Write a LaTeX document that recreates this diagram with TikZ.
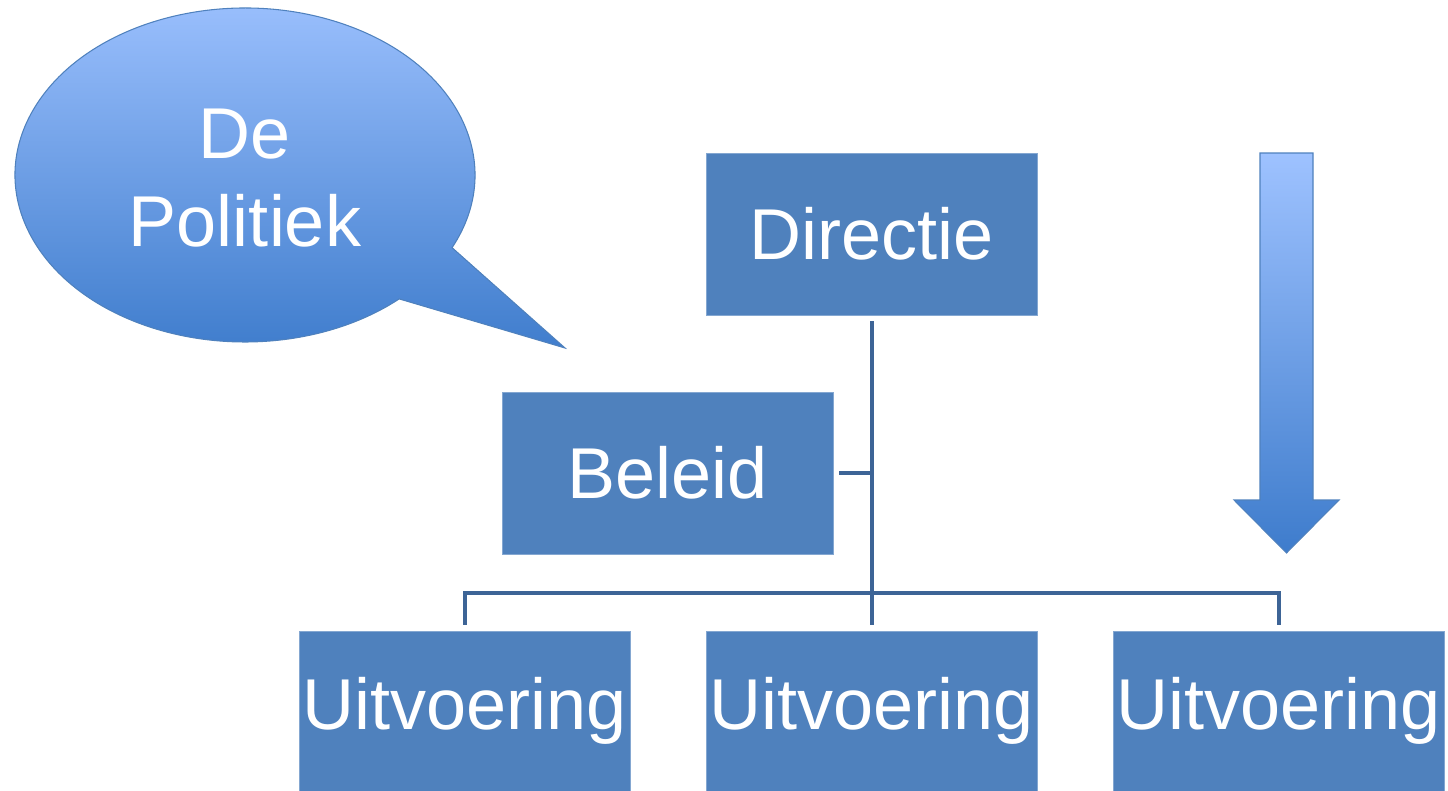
\documentclass[tikz,border=0pt]{standalone}
\usepackage{fontspec}
\setmainfont{Liberation Sans}
\definecolor{boxblue}{RGB}{79,129,189}
\definecolor{linkblue}{RGB}{61,100,150}
\definecolor{toplight}{RGB}{158,194,255}
\definecolor{bottomdark}{RGB}{62,124,204}
\begin{document}
\begin{tikzpicture}
[x=0.02cm,y=-0.02cm,
box/.style={fill=boxblue,draw=boxblue!70!white,line width=0.5pt,text=white,inner sep=0pt,
  minimum width=6.62cm,minimum height=3.24cm,font=\fontsize{41}{49}\selectfont},
lowbox/.style={box,minimum height=3.2cm},
conn/.style={draw=linkblue,line width=0.08cm,shorten <=0.12cm,shorten >=0.12cm},
shade/.style={top color=toplight,bottom color=bottomdark,draw=boxblue,line width=0.6pt}]

\useasboundingbox (0,0) rectangle (1448,791);

%the speech bubble
\path[shade] (245,175) ++(25.8:230 and 167)
  arc[start angle=25.8,end angle=-312.1,x radius=230,y radius=167]
  -- (565,348) -- cycle;
\node[text=white,align=center,font=\fontsize{41}{50}\selectfont] (pol) at (245,178) {De\\Politiek};

%the boxes
\node[box] (dir) at (871.5,234) {Directie};
\node[box] (bel) at (667.5,473) {Beleid};
\node[lowbox] (u1) at (464.5,711) {Uitvoering};
\node[lowbox] (u2) at (871.5,711) {Uitvoering};
\node[lowbox] (u3) at (1278.5,711) {Uitvoering};

%the lines
\coordinate (bus) at (871.5,593);
\draw[conn] (dir.south) -- (u2.north);
\draw[conn,shorten >=0pt] (bel.east) -- (bel.east -| dir.south);
\draw[conn] (u1.north) |- (bus) -| (u3.north);

%the big arrow
\path[shade] (1260,153) -- (1313,153) -- (1313,500) -- (1339,500) -- (1286.5,553)
  -- (1234,500) -- (1260,500) -- cycle;

\end{tikzpicture}
\end{document}
